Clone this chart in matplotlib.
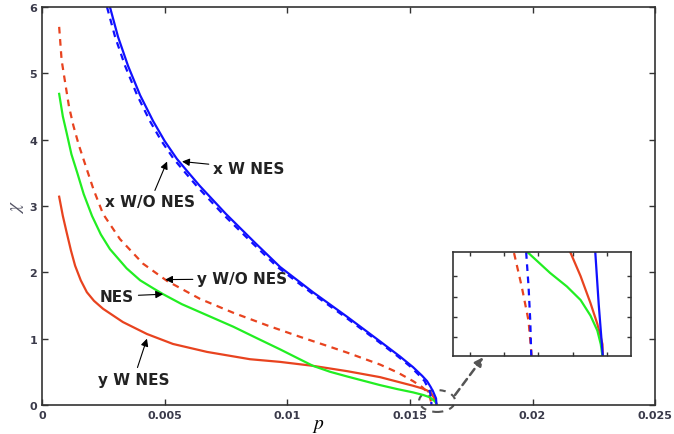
import matplotlib.pyplot as plt
from matplotlib.patches import Ellipse

# curvas (p, chi)
x_w_nes_p = [0.00277, 0.0031, 0.00351, 0.004, 0.00453, 0.005, 0.0055, 0.006, 0.00644, 0.0075, 0.0087,
             0.00971, 0.01105, 0.01244, 0.01378, 0.0146, 0.01513, 0.0155, 0.0157, 0.01585, 0.01595,
             0.016066, 0.016076, 0.016088]
x_w_nes_y = [6.0, 5.55, 5.11, 4.67, 4.28, 3.98, 3.71, 3.49, 3.30, 2.88, 2.44,
             2.08, 1.70, 1.33, 0.96, 0.73, 0.57, 0.44, 0.36, 0.27, 0.20,
             0.1, 0.05, 0.0]

x_wo_nes_p = [0.00265, 0.00298, 0.00339, 0.00388, 0.0044, 0.00487, 0.00537, 0.00587, 0.00631, 0.00737,
              0.00858, 0.0096, 0.01095, 0.01235, 0.0137, 0.01452, 0.01505, 0.0154, 0.0156, 0.01572,
              0.01582, 0.015864, 0.015871, 0.015876, 0.015879]
x_wo_nes_y = [6.0, 5.55, 5.11, 4.67, 4.28, 3.98, 3.71, 3.49, 3.30, 2.88,
              2.44, 2.08, 1.70, 1.33, 0.96, 0.73, 0.57, 0.44, 0.36, 0.27,
              0.20, 0.1, 0.067, 0.034, 0.0]

y_wo_nes_p = [0.0007, 0.0008, 0.00094, 0.0011, 0.00128, 0.0015, 0.00183, 0.0021, 0.00249, 0.00318,
              0.00412, 0.0051, 0.00644, 0.0078, 0.00918, 0.0105, 0.0118, 0.01244, 0.01378, 0.0145,
              0.01513, 0.0155, 0.0157, 0.015828, 0.015851, 0.015871, 0.01588]
y_wo_nes_y = [5.70, 5.2, 4.87, 4.5, 4.21, 3.92, 3.55, 3.25, 2.88, 2.5,
              2.13, 1.87, 1.6, 1.39, 1.2, 1.03, 0.87, 0.79, 0.61, 0.49,
              0.36, 0.27, 0.2, 0.1, 0.067, 0.034, 0.0]

nes_p = [0.0007, 0.00085, 0.001, 0.0012, 0.00143, 0.0017, 0.00204, 0.0024, 0.00277, 0.00345, 0.004,
         0.00453, 0.00494, 0.0057, 0.00644, 0.0078, 0.0088, 0.0097, 0.0104, 0.01105, 0.01175, 0.01244,
         0.01378, 0.01448, 0.01513, 0.01555, 0.01582, 0.015868, 0.015934, 0.015983, 0.016023, 0.016052,
         0.016072, 0.016082, 0.016087]
nes_y = [4.69, 4.35, 4.11, 3.78, 3.51, 3.18, 2.85, 2.57, 2.35, 2.06, 1.88,
         1.76, 1.67, 1.52, 1.40, 1.18, 1.0, 0.84, 0.71, 0.59, 0.5, 0.43,
         0.3, 0.24, 0.19, 0.15, 0.115, 0.1, 0.08, 0.067, 0.054, 0.039,
         0.0246, 0.0115, 0.0]

y_w_nes_p = [0.0007, 0.00085, 0.001, 0.00118, 0.00135, 0.00158, 0.00183, 0.00212, 0.00249, 0.0033,
             0.00428, 0.00534, 0.00673, 0.00848, 0.0097, 0.01105, 0.01244, 0.01378, 0.01513, 0.0155,
             0.01582, 0.0159, 0.015993, 0.016023, 0.016052, 0.016072, 0.016087, 0.016088]
y_w_nes_y = [3.14, 2.85, 2.61, 2.33, 2.1, 1.88, 1.70, 1.57, 1.45, 1.25,
             1.07, 0.92, 0.80, 0.69, 0.65, 0.59, 0.51, 0.42, 0.29, 0.25,
             0.2, 0.16, 0.1, 0.077, 0.051, 0.031, 0.0115, 0.0]

x_ticks = [0, 0.005, 0.01, 0.015, 0.02, 0.025]
x_tick_labels = ["0", "0.005", "0.01", "0.015", "0.02", "0.025"]
y_ticks = [0, 1, 2, 3, 4, 5, 6]

BLUE = "#1010ff"
RED = "#e8431f"
GREEN = "#22ee22"
DARK = "#333333"

plt.rcParams["mathtext.fontset"] = "stix"


def draw_curves(ax, lw):
    ax.plot(y_w_nes_p, y_w_nes_y, color=RED, lw=lw, solid_joinstyle="round")
    ax.plot(y_wo_nes_p, y_wo_nes_y, color=RED, lw=lw, ls=(0, (3, 2.5)))
    ax.plot(nes_p, nes_y, color=GREEN, lw=lw, solid_joinstyle="round")
    ax.plot(x_wo_nes_p, x_wo_nes_y, color=BLUE, lw=lw, ls=(0, (3, 2.5)))
    ax.plot(x_w_nes_p, x_w_nes_y, color=BLUE, lw=lw, solid_joinstyle="round")


def style_axes(ax):
    for s in ax.spines.values():
        s.set_color(DARK)
        s.set_linewidth(1.2)
    ax.tick_params(direction="in", top=True, right=True, length=4, width=1, color=DARK)


fig = plt.figure(figsize=(6.74, 4.35), dpi=100)
ax = fig.add_axes([0.0623, 0.0667, 0.9097, 0.915])
draw_curves(ax, 1.6)
ax.set_xlim(0, 0.025)
ax.set_ylim(0, 6)
ax.set_xticks(x_ticks)
ax.set_xticklabels(x_tick_labels)
ax.set_yticks(y_ticks)
style_axes(ax)
for lab in ax.get_xticklabels() + ax.get_yticklabels():
    lab.set_fontsize(8)
    lab.set_fontweight("bold")
    lab.set_color("#3a3a4a")
ax.set_xlabel("$p$", fontsize=14, va="center")
ax.xaxis.set_label_coords(0.45, -0.048)
ax.set_ylabel(r"$\chi$", fontsize=14, labelpad=2, color="#555566")

# anotaciones
arrow = dict(arrowstyle="-|>", color="black", lw=0.8, mutation_scale=11, shrinkA=1, shrinkB=0)
font = dict(fontsize=11, fontweight="bold", family="DejaVu Sans", ha="left", va="center", color="#222222")
ax.annotate("x W NES", xy=(0.00571, 3.67), xytext=(0.00697, 3.57), arrowprops=arrow, **font)
ax.annotate("x W/O NES", xy=(0.0051, 3.67), xytext=(0.00257, 3.06), arrowprops=arrow, **font)
ax.annotate("y W/O NES", xy=(0.00502, 1.89), xytext=(0.00632, 1.90), arrowprops=arrow, **font)
ax.annotate("NES", xy=(0.00494, 1.67), xytext=(0.00237, 1.64), arrowprops=arrow, **font)
ax.annotate("y W NES", xy=(0.00428, 1.0), xytext=(0.00228, 0.39), arrowprops=arrow, **font)

# elipse y flecha hacia el zoom
ell = Ellipse((0.01611, 0.06), 0.00147, 0.33, fill=False, ls=(0, (3, 3)), lw=1.5,
              color="#555555", clip_on=False)
ax.add_patch(ell)
ax.annotate("", xy=(0.01799, 0.72), xytext=(0.01684, 0.15),
            arrowprops=dict(arrowstyle="-|>", color="#555555", lw=1.8, ls=(0, (3, 2)),
                            mutation_scale=12, shrinkA=0, shrinkB=0), annotation_clip=False)

# recuadro ampliado
axin = fig.add_axes([0.672, 0.179, 0.264, 0.239])
draw_curves(axin, 1.6)
axin.set_xlim(0.01565, 0.01617)
axin.set_ylim(0, 0.1)
axin.set_xticks([0.0157, 0.0158, 0.0159, 0.016, 0.0161])
axin.set_yticks([0.018, 0.038, 0.057, 0.077])
axin.set_xticklabels([])
axin.set_yticklabels([])
style_axes(axin)
axin.tick_params(length=3)

plt.savefig("out.png", dpi=100)
plt.close()
